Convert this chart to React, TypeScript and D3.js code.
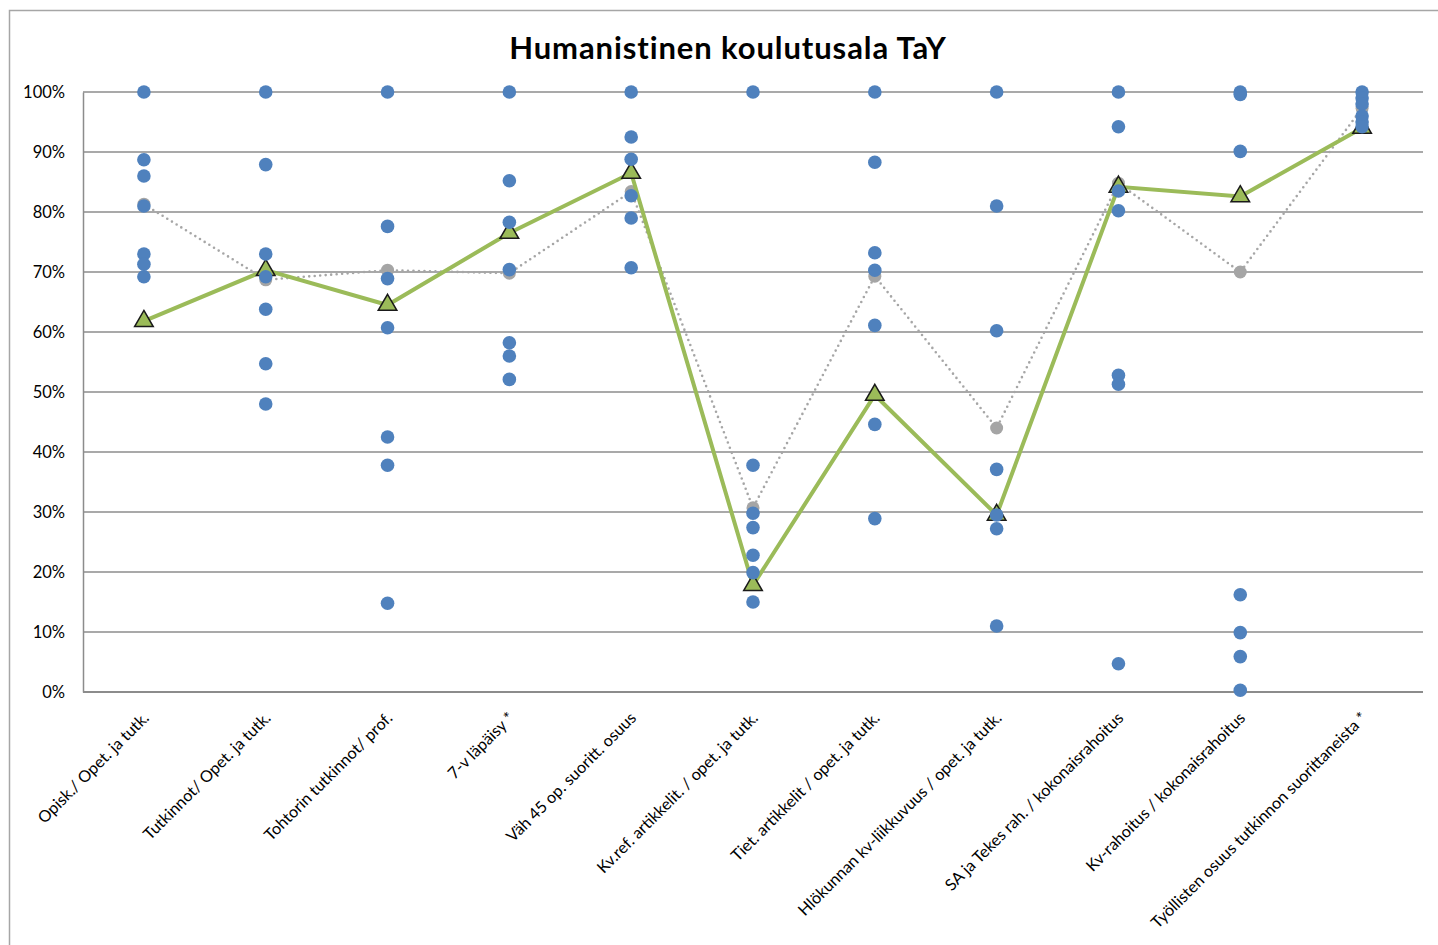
import React, { useEffect, useRef } from 'react';
import * as d3 from 'd3';

const categories = [
  'Opisk./ Opet. ja tutk.',
  'Tutkinnot/ Opet. ja tutk.',
  'Tohtorin tutkinnot/ prof.',
  '7-v läpäisy *',
  'Väh 45 op. suoritt. osuus',
  'Kv.ref. artikkelit. / opet. ja tutk.',
  'Tiet. artikkelit / opet. ja tutk.',
  'Hlökunnan kv-liikkuvuus / opet. ja tutk.',
  'SA ja Tekes rah. / kokonaisrahoitus',
  'Kv-rahoitus / kokonaisrahoitus',
  'Työllisten osuus tutkinnon suorittaneista *',
];

// individual units (blue dots), percent
const unitValues: number[][] = [
  [100, 88.7, 86, 81, 73, 71.3, 69.2],
  [100, 87.9, 73, 69.2, 63.8, 54.7, 48],
  [100, 77.6, 68.9, 60.7, 42.5, 37.8, 14.8],
  [100, 85.2, 78.3, 70.4, 58.2, 56, 52.1],
  [100, 92.5, 88.8, 82.7, 79, 70.7],
  [100, 37.8, 29.8, 27.4, 22.8, 19.9, 15],
  [100, 88.3, 73.2, 70.3, 61.1, 44.6, 28.9],
  [100, 81, 60.2, 37.1, 29.5, 27.2, 11],
  [100, 94.2, 83.5, 80.2, 52.8, 51.3, 4.7],
  [100, 99.6, 90.1, 16.2, 9.9, 5.9, 0.3],
  [100, 99, 98, 96, 95, 94.2],
];

// grey dotted series
const greyValues = [81.3, 68.7, 70.3, 69.8, 83.4, 30.7, 69.3, 44, 84.8, 70, 97.3];

// green triangle series (TaY humanistinen)
const greenValues = [61.8, 70.3, 64.5, 76.5, 86.5, 17.8, 49.5, 29.5, 84.2, 82.6, 94];

const yTicks = [0, 10, 20, 30, 40, 50, 60, 70, 80, 90, 100];

export default function App() {
  const ref = useRef<HTMLDivElement>(null);

  useEffect(() => {
    const container = ref.current;
    if (!container) return;
    container.innerHTML = '';

    const width = 1438;
    const height = 945;
    const margin = { top: 92, right: 15, bottom: 253, left: 83 };
    const innerWidth = width - margin.left - margin.right;
    const innerHeight = height - margin.top - margin.bottom;
    const font = 'Lato, "Open Sans", sans-serif';

    const svg = d3.select(container)
      .append('svg')
      .attr('width', width)
      .attr('height', height)
      .style('display', 'block')
      .style('position', 'absolute')
      .style('left', '0px')
      .style('top', '0px');

    svg.append('rect')
      .attr('x', 9.5)
      .attr('y', 10.5)
      .attr('width', width)
      .attr('height', height)
      .attr('fill', '#fff')
      .attr('stroke', '#a6a6a6')
      .attr('stroke-width', 1.5);

    svg.append('text')
      .attr('x', 728)
      .attr('y', 59)
      .attr('text-anchor', 'middle')
      .attr('font-family', font)
      .attr('font-weight', 700)
      .attr('font-size', 31)
      .attr('letter-spacing', 0.9)
      .attr('fill', '#000')
      .text('Humanistinen koulutusala TaY');

    const g = svg.append('g').attr('transform', `translate(${margin.left},${margin.top})`);

    const x = d3.scaleBand()
      .domain(categories)
      .range([0, innerWidth]);

    const y = d3.scaleLinear()
      .domain([0, 100])
      .range([innerHeight, 0]);

    const cx = (i: number) => (x(categories[i]) as number) + x.bandwidth() / 2;

    // gridlines
    g.selectAll('line.grid')
      .data(yTicks)
      .enter()
      .append('line')
      .attr('class', 'grid')
      .attr('x1', 0)
      .attr('x2', innerWidth)
      .attr('y1', d => y(d))
      .attr('y2', d => y(d))
      .attr('stroke', '#8c8c8c')
      .attr('stroke-width', d => (d === 0 ? 2 : 1.5));

    // y axis line, no outer ticks
    const yAxis = g.append('g')
      .call(d3.axisLeft(y).tickValues(yTicks).tickSize(0).tickFormat(d => `${d}%`));
    yAxis.select('.domain').attr('stroke', '#8c8c8c').attr('stroke-width', 1.5);
    yAxis.selectAll('.tick line').remove();
    yAxis.selectAll('.tick text')
      .attr('x', -18)
      .attr('font-family', font)
      .attr('font-size', 16.5)
      .attr('fill', '#000');

    // x labels
    g.selectAll('text.xlab')
      .data(categories)
      .enter()
      .append('text')
      .attr('class', 'xlab')
      .attr('transform', (d, i) => `translate(${cx(i) + 6},${innerHeight + 27}) rotate(-45)`)
      .attr('text-anchor', 'end')
      .attr('font-family', font)
      .attr('font-size', 16.2)
      .attr('fill', '#000')
      .text(d => d);

    // grey dotted series
    const line = d3.line<number>()
      .x((d, i) => cx(i))
      .y(d => y(d));

    g.append('path')
      .datum(greyValues)
      .attr('d', line)
      .attr('fill', 'none')
      .attr('stroke', '#a6a6a6')
      .attr('stroke-width', 2.6)
      .attr('stroke-dasharray', '0 5.5')
      .attr('stroke-linecap', 'round');

    g.selectAll('circle.grey')
      .data(greyValues)
      .enter()
      .append('circle')
      .attr('class', 'grey')
      .attr('cx', (d, i) => cx(i))
      .attr('cy', d => y(d))
      .attr('r', 6.5)
      .attr('fill', '#a5a5a5');

    // green series
    g.append('path')
      .datum(greenValues)
      .attr('d', line)
      .attr('fill', 'none')
      .attr('stroke', '#9bbb59')
      .attr('stroke-width', 4);

    const tri = d3.symbol().type(d3.symbolTriangle).size(150);
    g.selectAll('path.tri')
      .data(greenValues)
      .enter()
      .append('path')
      .attr('class', 'tri')
      .attr('d', tri)
      .attr('transform', (d, i) => `translate(${cx(i)},${y(d)})`)
      .attr('fill', '#9bbb59')
      .attr('stroke', '#1a1a1a')
      .attr('stroke-width', 1.5);

    // blue unit dots
    const dots = unitValues.flatMap((vals, i) => vals.map(v => ({ i, v })));
    g.selectAll('circle.unit')
      .data(dots)
      .enter()
      .append('circle')
      .attr('class', 'unit')
      .attr('cx', d => cx(d.i))
      .attr('cy', d => y(d.v))
      .attr('r', 6.8)
      .attr('fill', '#4f81bd');
  }, []);

  return <div ref={ref} style={{ width: 1438, height: 945 }} />;
}
